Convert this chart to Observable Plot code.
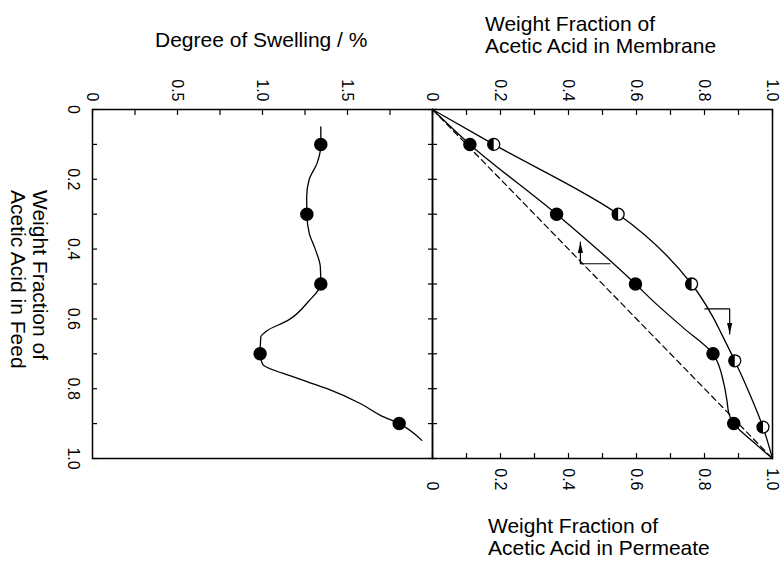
<!DOCTYPE html>
<html><head><meta charset="utf-8">
<script src="https://cdn.jsdelivr.net/npm/d3@7"></script>
<script src="https://cdn.jsdelivr.net/npm/@observablehq/plot@0.6"></script>
<style>
body{margin:0;background:#fff;}
#wrap{position:relative;width:784px;height:561px;font-family:"Liberation Sans",Arial,Helvetica,sans-serif;color:#000;overflow:hidden;}
#wrap svg{position:absolute;left:0;top:0;}
.ttl{position:absolute;font-size:21px;line-height:22px;white-space:nowrap;}
</style></head><body><div id="wrap"></div>
<script>
// ---- data ----
const feedSwelling = [0.1, 0.3, 0.5, 0.7, 0.9];
const swelling = [1.343, 1.261, 1.343, 0.986, 1.804];
const swellingCurveValue = [1.343,1.343,1.32,1.275,1.26,1.261,1.275,1.31,1.34,1.343,1.27,1.147,1.029,0.99,0.986,1.0,1.186,1.38,1.578,1.696,1.804,1.937];
const swellingCurveFeed  = [0.05,0.10,0.155,0.2,0.25,0.3,0.355,0.4,0.45,0.5,0.55,0.605,0.633,0.652,0.70,0.729,0.767,0.80,0.843,0.877,0.9,0.948];

const feedPermeate = [0.1, 0.3, 0.5, 0.7, 0.9];
const permeate = [0.110, 0.365, 0.597, 0.825, 0.886];
const permeateCurveValue = [0, 0.110, 0.365, 0.597, 0.649, 0.737, 0.825, 0.857, 0.866, 0.872, 0.886, 0.938, 1];
const permeateCurveFeed  = [0, 0.1, 0.3, 0.5, 0.549, 0.625, 0.7, 0.786, 0.834, 0.872, 0.9, 0.948, 1];

const feedMembrane = [0.1, 0.3, 0.5, 0.72, 0.91];
const membrane = [0.180, 0.546, 0.762, 0.889, 0.972];
const membraneCurveValue = [0, 0.180, 0.546, 0.762, 0.825, 0.85, 0.889, 0.933, 0.972, 1];
const membraneCurveFeed  = [0, 0.1, 0.3, 0.5, 0.595, 0.643, 0.72, 0.815, 0.91, 1];

const diagonalValue = [0, 1];
const diagonalFeed = [0, 1];

const arrowUpValue = [0.522, 0.435, 0.435];
const arrowUpFeed = [0.442, 0.442, 0.380];
const arrowDownValue = [0.801, 0.874, 0.874];
const arrowDownFeed = [0.571, 0.571, 0.643];

const feedTicks = [0,0.1,0.2,0.3,0.4,0.5,0.6,0.7,0.8,0.9,1.0];
const feedTickLabels = [[0,"0"],[0.2,"0.2"],[0.4,"0.4"],[0.6,"0.6"],[0.8,"0.8"],[1.0,"1.0"]];
const swellingTicks = [0,0.25,0.5,0.75,1.0,1.25,1.5,1.75,2.0];
const swellingTickLabels = [[0,"0"],[0.5,"0.5"],[1.0,"1.0"],[1.5,"1.5"]];
const fractionTicks = [0,0.1,0.2,0.3,0.4,0.5,0.6,0.7,0.8,0.9,1.0];
const fractionTickLabels = [[0,"0"],[0.2,"0.2"],[0.4,"0.4"],[0.6,"0.6"],[0.8,"0.8"],[1.0,"1.0"]];

const titleSwelling = "Degree of Swelling / %";
const titleMembrane = ["Weight Fraction of", "Acetic Acid in Membrane"];
const titlePermeate = ["Weight Fraction of", "Acetic Acid in Permeate"];
const titleFeed = ["Weight Fraction of", "Acetic Acid in Feed"];

// ---- helpers ----
const zip = (xs, ys) => xs.map((x, i) => ({x, y: ys[i]}));
const leftHalf = {draw(ctx, size) { const r = Math.sqrt(size / Math.PI); ctx.moveTo(0, -r); ctx.arc(0, 0, r, -Math.PI/2, Math.PI/2, true); ctx.closePath(); }};
const arrowHead = {draw(ctx) { ctx.moveTo(0, 0); ctx.lineTo(-2.6, 11); ctx.lineTo(2.6, 11); ctx.closePath(); }};
const FONT = '"Liberation Sans", Arial, Helvetica, sans-serif';
const W = 784, H = 561, TOP = 109, BOTTOM = 561 - 458;
const tickStyle = {tickSize: -5, tickFormat: () => "", label: null, strokeWidth: 1.2};

const leftPlot = Plot.plot({
  width: W, height: H,
  marginLeft: 92, marginRight: W - 432, marginTop: TOP, marginBottom: BOTTOM,
  style: {background: "transparent", fontFamily: FONT, fontSize: "16px", color: "#000", overflow: "visible"},
  x: {domain: [0, 2]},
  y: {domain: [0, 1], reverse: true},
  marks: [
    Plot.axisX(swellingTicks, {anchor: "top", ...tickStyle}),
    Plot.axisY(feedTicks, {anchor: "left", ...tickStyle}),
    Plot.axisY(feedTicks, {anchor: "right", ...tickStyle}),
    Plot.text(swellingTickLabels, {x: d => d[0], text: d => d[1], frameAnchor: "top", dy: -8, rotate: 90, textAnchor: "end", lineAnchor: "middle", fontSize: 16, fill: "#000"}),
    Plot.text(feedTickLabels, {y: d => d[0], text: d => d[1], frameAnchor: "left", dx: -13, rotate: 90, textAnchor: "middle", lineAnchor: "top", fontSize: 16, fill: "#000"}),
    Plot.line(zip(swellingCurveValue, swellingCurveFeed), {x: "x", y: "y", curve: "monotone-y", stroke: "#000", strokeWidth: 1.3}),
    Plot.dot(zip(swelling, feedSwelling), {x: "x", y: "y", r: 6, fill: "#000", stroke: "#000"}),
    Plot.frame({stroke: "#000", strokeWidth: 1.5})
  ]
});

const rightPlot = Plot.plot({
  width: W, height: H,
  marginLeft: 432, marginRight: W - 772, marginTop: TOP, marginBottom: BOTTOM,
  style: {background: "transparent", fontFamily: FONT, fontSize: "16px", color: "#000", overflow: "visible"},
  x: {domain: [0, 1]},
  y: {domain: [0, 1], reverse: true},
  marks: [
    Plot.axisX(fractionTicks, {anchor: "top", ...tickStyle}),
    Plot.axisX(fractionTicks, {anchor: "bottom", ...tickStyle}),
    Plot.axisY(feedTicks, {anchor: "left", ...tickStyle}),
    Plot.text(fractionTickLabels, {x: d => d[0], text: d => d[1], frameAnchor: "top", dy: -8, rotate: 90, textAnchor: "end", lineAnchor: "middle", fontSize: 16, fill: "#000"}),
    Plot.text(fractionTickLabels, {x: d => d[0], text: d => d[1], frameAnchor: "bottom", dy: 32, rotate: 90, textAnchor: "end", lineAnchor: "middle", fontSize: 16, fill: "#000"}),
    Plot.line(zip(diagonalValue, diagonalFeed), {x: "x", y: "y", stroke: "#000", strokeWidth: 1.2, strokeDasharray: "6,4"}),
    Plot.line(zip(permeateCurveValue, permeateCurveFeed), {x: "x", y: "y", curve: "monotone-y", stroke: "#000", strokeWidth: 1.3}),
    Plot.line(zip(membraneCurveValue, membraneCurveFeed), {x: "x", y: "y", curve: "monotone-y", stroke: "#000", strokeWidth: 1.3}),
    Plot.line(zip(arrowUpValue, arrowUpFeed), {x: "x", y: "y", stroke: "#000", strokeWidth: 1.2}),
    Plot.line(zip(arrowDownValue, arrowDownFeed), {x: "x", y: "y", stroke: "#000", strokeWidth: 1.2}),
    Plot.dot([zip(arrowUpValue, arrowUpFeed)[2]], {x: "x", y: "y", symbol: arrowHead, r: 4, fill: "#000", stroke: "none"}),
    Plot.dot([zip(arrowDownValue, arrowDownFeed)[2]], {x: "x", y: "y", symbol: arrowHead, r: 4, rotate: 180, fill: "#000", stroke: "none"}),
    Plot.dot(zip(permeate, feedPermeate), {x: "x", y: "y", r: 6, fill: "#000", stroke: "#000"}),
    Plot.dot(zip(membrane, feedMembrane), {x: "x", y: "y", r: 6, fill: "#fff", stroke: "#000", strokeWidth: 1.3}),
    Plot.dot(zip(membrane, feedMembrane), {x: "x", y: "y", r: 6, symbol: leftHalf, fill: "#000", stroke: "none"}),
    Plot.frame({stroke: "#000", strokeWidth: 1.5})
  ]
});

const wrap = document.getElementById("wrap");
wrap.appendChild(leftPlot);
wrap.appendChild(rightPlot);

function addTitle(lines, left, top, rotate) {
  const d = document.createElement("div");
  d.className = "ttl";
  d.style.left = left + "px";
  d.style.top = top + "px";
  d.innerHTML = lines.map(s => s.replace(/&/g, "&amp;")).join("<br>");
  if (rotate) { d.style.transformOrigin = "0 0"; d.style.transform = "rotate(90deg)"; }
  wrap.appendChild(d);
}
addTitle([titleSwelling], 155, 28.7, false);
addTitle(titleMembrane, 485, 12.7, false);
addTitle(titlePermeate, 488, 514.7, false);
addTitle(titleFeed, 51, 190, true);
</script>
</body></html>
